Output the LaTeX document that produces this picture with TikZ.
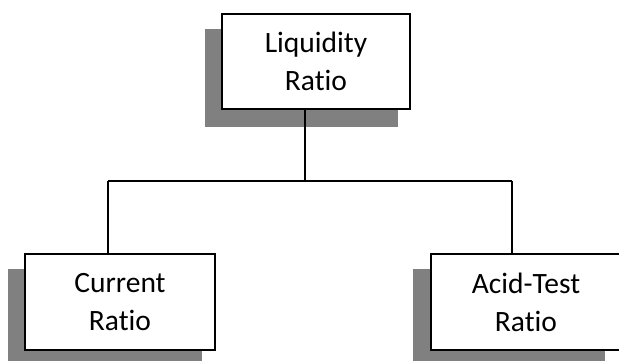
\documentclass[tikz,border=0pt]{standalone}
\usepackage{fontspec}
\setmainfont{Carlito}[Ligatures=NoCommon]
\begin{document}
\begin{tikzpicture}[x=1pt,y=-1pt,
  box/.style={draw=black,line width=1.8pt,fill=white,align=center,inner sep=0pt,
    minimum width=190pt,font=\fontsize{29.5}{38}\selectfont},
  shade/.style={fill=shadowgray},
  conn/.style={draw=black,line width=1.6pt}]
\definecolor{shadowgray}{RGB}{128,128,128}
\useasboundingbox (0,0) rectangle (619,361);
% shadows
\fill[shade] (205,29) rectangle (398,127);
\fill[shade] (8,269) rectangle (202,361);
\fill[shade] (413,269) rectangle (605,361);
% boxes
\node[box,minimum width=188pt,minimum height=95pt] (top) at (316,61.5) {Liquidity\\Ratio};
\node[box,minimum height=96pt] (cur) at (120,302) {Current\\Ratio};
\node[box,minimum height=96pt] (acid) at (526,302) {Acid-Test\\Ratio};
% connectors
\coordinate (j) at (305,181);
\coordinate (l) at (108,181);
\coordinate (r) at (512,181);
\draw[conn] (j |- top.south) -- (j);
\draw[conn] (l) -- (r);
\draw[conn] (l) -- (l |- cur.north);
\draw[conn] (r) -- (r |- acid.north);
\end{tikzpicture}
\end{document}
